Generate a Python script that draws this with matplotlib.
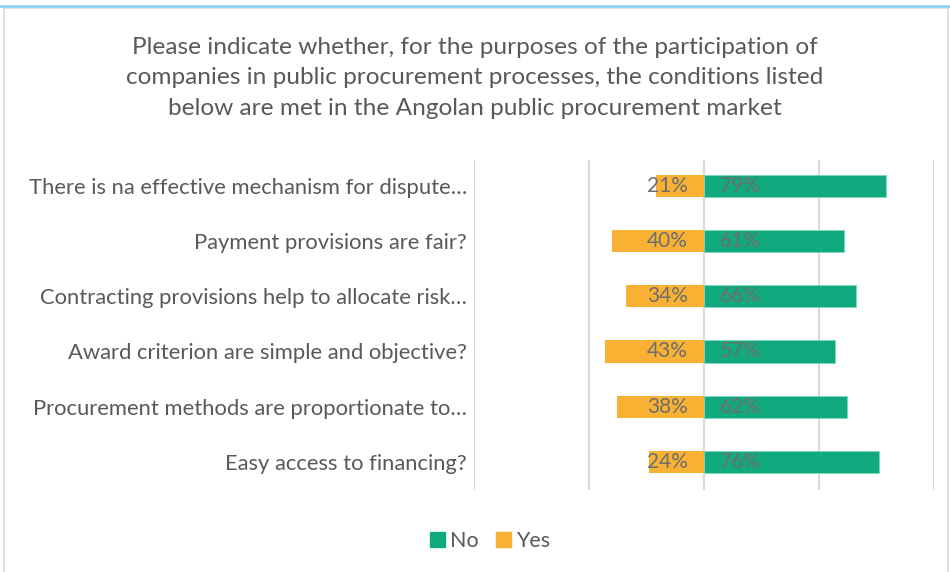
import matplotlib.pyplot as plt
from matplotlib.patches import Rectangle
from matplotlib.lines import Line2D

# data, top to bottom
categories = [
    "There is na effective mechanism for dispute…",
    "Payment provisions are fair?",
    "Contracting provisions help to allocate risk…",
    "Award criterion are simple and objective?",
    "Procurement methods are proportionate to…",
    "Easy access to financing?",
]
no_vals = [0.79, 0.61, 0.66, 0.57, 0.62, 0.76]
yes_vals = [0.21, 0.40, 0.34, 0.43, 0.38, 0.24]

green = "#10AA7E"
orange = "#F8B133"
txt = "#6E6E6E"

plt.rcParams['font.family'] = ['Lato', 'DejaVu Sans']

fig = plt.figure(figsize=(9.5, 5.72), dpi=100)
ax = fig.add_axes([474/950, 1-490/572, 460/950, 330/572])

y = list(range(len(categories)))
ax.barh(y, no_vals, height=0.4, color=green, label="No", edgecolor="#7fd8be", linewidth=0.6, zorder=3)
ax.barh(y, [-v for v in yes_vals], height=0.4, color=orange, label="Yes", zorder=3)

for i in y:
    ax.text(0.07, i, f"{no_vals[i]*100:.0f}%", ha="left", va="center", color=txt, fontsize=15, zorder=4)
    ax.text(-0.07, i, f"{yes_vals[i]*100:.0f}%", ha="right", va="center", color=txt, fontsize=15, zorder=4)

ax.set_xlim(-1, 1)
ax.set_ylim(5.51, -0.47)
ax.set_xticks([-1, -0.5, 0, 0.5, 1])
ax.set_xticklabels([])
ax.tick_params(length=0)
ax.grid(axis="x", color="#D9D9D9", linewidth=1.5, zorder=0)
ax.set_yticks(y)
ax.set_yticklabels(categories, fontsize=15.8, color="#595959")
ax.tick_params(axis="y", pad=5)
for s in ax.spines.values():
    s.set_visible(False)

fig.text(0.5, 1-78/572, "Please indicate whether, for the purposes of the participation of\n"
         "companies in public procurement processes, the conditions listed\n"
         "below are met in the Angolan public procurement market",
         ha="center", va="center", fontsize=17.6, color="#595959", linespacing=1.55)

handles = [Rectangle((0, 0), 1, 1, color=green), Rectangle((0, 0), 1, 1, color=orange)]
fig.legend(handles, ["No", "Yes"], loc="center", bbox_to_anchor=(490/950, 1-541/572),
           ncol=2, frameon=False, fontsize=15.5, handlelength=0.7, handleheight=0.7,
           handletextpad=0.25, columnspacing=0.8, labelcolor="#595959")

# chart frame
fig.add_artist(Rectangle((4/950, -0.01), 944/950, 1-8/572 + 0.01, transform=fig.transFigure,
                         fill=False, edgecolor="#D9D9D9", linewidth=1.2))
fig.add_artist(Line2D([0, 1], [1-6/572, 1-6/572], transform=fig.transFigure, color="#8FD3F5", linewidth=2))

fig.savefig("out.png", dpi=100, facecolor="white")
